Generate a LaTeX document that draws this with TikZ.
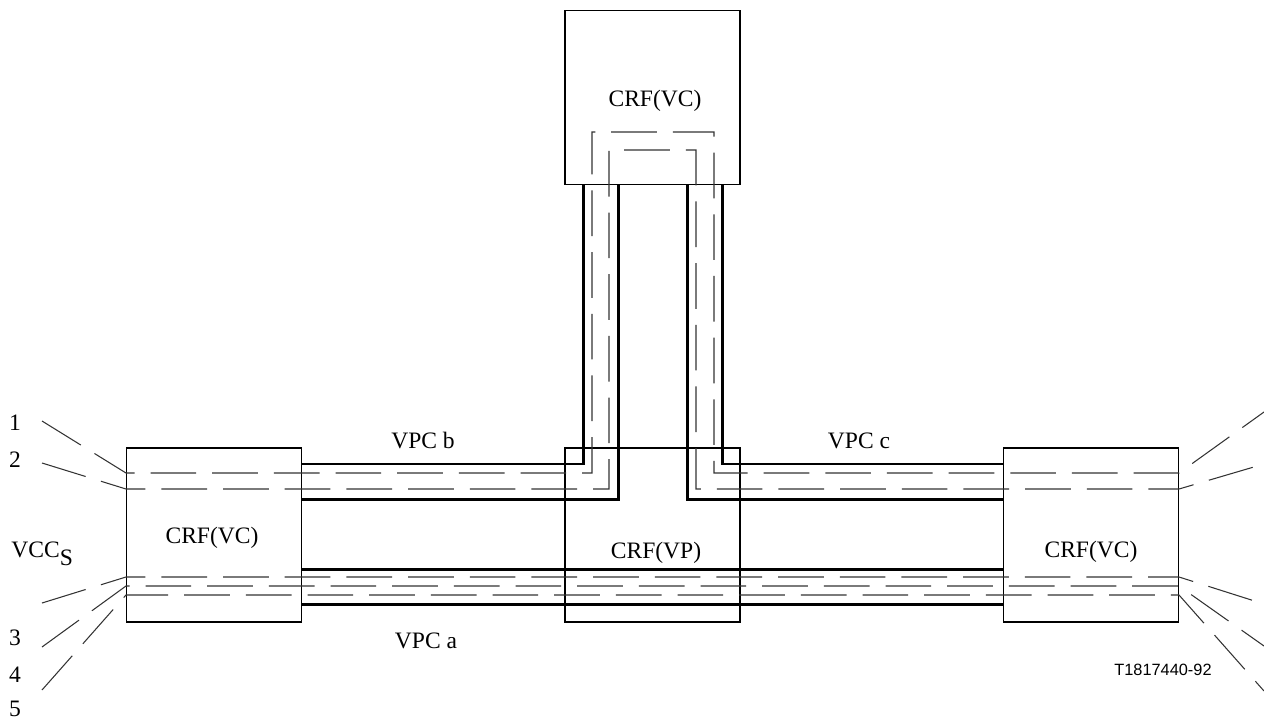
\documentclass[tikz,border=0pt]{standalone}
\usepackage{fontspec}
\setmainfont{Liberation Serif}
\newfontfamily\figsans{Liberation Sans}
\usetikzlibrary{positioning}

\begin{document}
\begin{tikzpicture}[x=0.02cm,y=-0.02cm,
    crfbox/.style={draw,line width=0.8pt,minimum width=3.5cm,
      minimum height=3.48cm,inner sep=0pt},
    crftext/.style={inner sep=0pt,anchor=base,
      font=\fontsize{13.4}{16}\selectfont},
    pipe/.style={line width=1.7pt},
    vcline/.style={draw=black!80,line width=0.6pt,
      dash pattern=on 26pt off 9.1pt}
  ]
    \useasboundingbox (0,0) rectangle (1264,720);
    % connection related functions
    \node[crfbox] (vcTop) at (652.5,97.5) {};
    \node[crfbox,below=5.24cm of vcTop] (vp) {};
    \node[crfbox,left=5.24cm of vp] (vcLeft) {};
    \node[crfbox,right=5.24cm of vp] (vcRight) {};
    \node[crftext] (vcTopName) at (655,106) {CRF(VC)};
    \node[crftext] (vcLeftName) at (212,543) {CRF(VC)};
    \node[crftext] (vcRightName) at (1091,557) {CRF(VC)};
    \node[crftext] (vpName) at (656,558) {CRF(VP)};
    % virtual path connections
    \draw[pipe] (vcLeft.east |- 0,464) -| (vcTop.south -| 583,0);
    \draw[pipe] (vcLeft.east |- 0,499) -| (vcTop.south -| 618,0);
    \draw[pipe] (vcRight.west |- 0,464) -| (vcTop.south -| 722,0);
    \draw[pipe] (vcRight.west |- 0,499) -| (vcTop.south -| 687,0);
    \draw[pipe] (vcLeft.east |- 0,569) -- (vcRight.west |- 0,569);
    \draw[pipe] (vcLeft.east |- 0,604) -- (vcRight.west |- 0,604);
    \node[crftext] (vpcB) at (423,448) {VPC b};
    \node[crftext] (vpcC) at (859,448) {VPC c};
    \node[crftext] (vpcA) at (426,648) {VPC a};
    % virtual channel connections
    \coordinate (in1) at (42,421);
    \coordinate (in2) at (42,463);
    \coordinate (in3) at (42,603);
    \coordinate (in4) at (42,647);
    \coordinate (in5) at (42,690);
    \coordinate (out1) at (1264,412);
    \coordinate (out2) at (1264,464);
    \coordinate (out3) at (1264,604);
    \coordinate (out4) at (1264,646);
    \coordinate (out5) at (1264,691);
    \draw[vcline] (in1) -- (vcLeft.west |- 0,473) -- (592,473) -- (592,132)
      -- (714,132) -- (714,473) -- (vcRight.east |- 0,473) -- (out1);
    \draw[vcline] (in2) -- (vcLeft.west |- 0,489) -- (609,489) -- (609,150)
      -- (696,150) -- (696,489) -- (vcRight.east |- 0,489) -- (out2);
    \draw[vcline] (in3) -- (vcLeft.west |- 0,577) -- (vcRight.east |- 0,577) -- (out3);
    \draw[vcline] (in4) -- (vcLeft.west |- 0,586) -- (vcRight.east |- 0,586) -- (out4);
    \draw[vcline] (in5) -- (vcLeft.west |- 0,595) -- (vcRight.east |- 0,595) -- (out5);
    \node[crftext] (num1) at (15,430) {1};
    \node[crftext] (num2) at (15,467) {2};
    \node[crftext] (num3) at (15,645) {3};
    \node[crftext] (num4) at (15,682) {4};
    \node[crftext] (num5) at (15,716) {5};
    \node[crftext,anchor=base west] (vccs) at (11,557) {VCC\raisebox{-0.16cm}{S}};
    \node[inner sep=0pt,anchor=base,font=\figsans\fontsize{9.3}{11}\selectfont]
      (figId) at (1163,675) {T1817440-92};
  \end{tikzpicture}
\end{document}
